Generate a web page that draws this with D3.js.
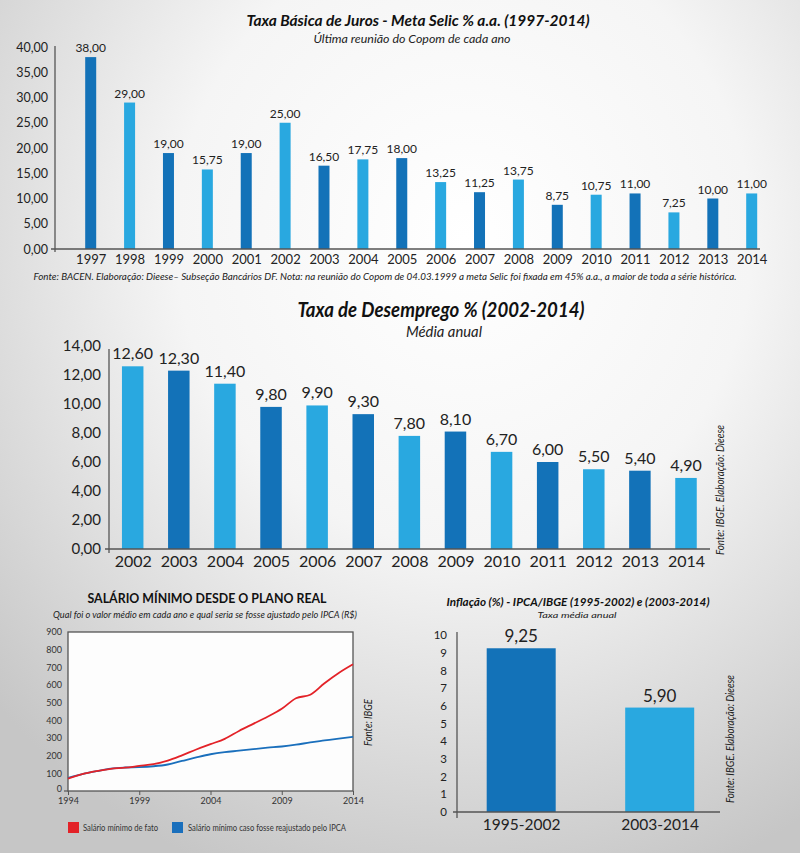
<!DOCTYPE html>
<html><head><meta charset="utf-8">
<script src="https://cdn.jsdelivr.net/npm/d3@7"></script>
<style>html,body{margin:0;padding:0;}svg{display:block;font-family:Lato,"Open Sans",sans-serif;}</style>
</head><body>
<svg id="c" width="800" height="853"></svg>
<script>
// ---- Data ----
const selicYears = ["1997","1998","1999","2000","2001","2002","2003","2004","2005","2006","2007","2008","2009","2010","2011","2012","2013","2014"];
const selicValues = [38.00,29.00,19.00,15.75,19.00,25.00,16.50,17.75,18.00,13.25,11.25,13.75,8.75,10.75,11.00,7.25,10.00,11.00];
const selicTicks = [0,5,10,15,20,25,30,35,40];

const desempYears = ["2002","2003","2004","2005","2006","2007","2008","2009","2010","2011","2012","2013","2014"];
const desempValues = [12.60,12.30,11.40,9.80,9.90,9.30,7.80,8.10,6.70,6.00,5.50,5.40,4.90];
const desempTicks = [0,2,4,6,8,10,12,14];

const salYears = [1994,1995,1996,1997,1998,1999,2000,2001,2002,2003,2004,2005,2006,2007,2008,2009,2010,2011,2012,2013,2014];
const salFato = [70,95,112,125,132,142,152,172,202,235,265,295,340,380,420,465,525,545,610,668,717];
const salIPCA = [75,95,112,127,133,135,140,150,170,190,208,220,228,237,245,252,262,275,286,297,307];
const salYTicks = [0,100,200,300,400,500,600,700,800,900];
const salXTicks = [1994,1999,2004,2009,2014];

const inflCats = ["1995-2002","2003-2014"];
const inflValues = [9.25,5.90];
const inflTicks = [0,1,2,3,4,5,6,7,8,9,10];

const DARK = "#1372b8", LIGHT = "#29a8e0", AXIS = "#555";
const fmt2 = v => v.toFixed(2).replace(".", ",");

const svg = d3.select("#c");
const defs = svg.append("defs");
const bg = defs.append("radialGradient").attr("id","bg").attr("cx","58%").attr("cy","28%").attr("r","80%");
bg.append("stop").attr("offset","0%").attr("stop-color","#ffffff");
bg.append("stop").attr("offset","45%").attr("stop-color","#f5f5f5");
bg.append("stop").attr("offset","100%").attr("stop-color","#c6c6c6");
svg.append("rect").attr("width",800).attr("height",853).attr("fill","url(#bg)");

function txt(x,y,s,o){
  const t = svg.append("text").attr("x",x).attr("y",y).text(s)
    .attr("font-size",o.size).attr("fill",o.fill||"#222")
    .attr("text-anchor",o.anchor||"middle");
  if(o.bold) t.attr("font-weight","bold");
  if(o.italic) t.attr("font-style","italic");
  if(o.len) t.attr("textLength",o.len).attr("lengthAdjust","spacingAndGlyphs");
  if(o.rot) t.attr("transform",`rotate(-90,${x},${y})`);
  return t;
}

// ---- Chart 1: Selic ----
{
  const x = d3.scalePoint().domain(selicYears).range([90.7,751.7]);
  const y = d3.scaleLinear().domain([0,40]).range([249,47]);
  const bw = 11;
  const g = svg.append("g");
  g.selectAll("rect").data(selicValues).join("rect")
    .attr("x",(d,i)=>x(selicYears[i])-bw/2).attr("y",d=>y(d))
    .attr("width",bw).attr("height",d=>y(0)-y(d))
    .attr("fill",(d,i)=>i%2===0?DARK:LIGHT);
  g.selectAll("text.v").data(selicValues).join("text").attr("class","v")
    .attr("x",(d,i)=>x(selicYears[i])).attr("y",d=>y(d)-5)
    .attr("text-anchor","middle").attr("font-size",12).attr("fill","#222").text(fmt2);
  const ya = g.append("g").attr("transform","translate(55,0)")
    .call(d3.axisLeft(y).tickValues(selicTicks).tickFormat(fmt2).tickSize(0).tickPadding(7));
  ya.select(".domain").remove();
  ya.selectAll("text").attr("font-size",12.5).attr("fill","#222").attr("font-family","Lato");
  g.append("line").attr("x1",55).attr("x2",55).attr("y1",46).attr("y2",252).attr("stroke",AXIS).attr("stroke-width",1.3);
  g.append("line").attr("x1",51).attr("x2",760).attr("y1",249).attr("y2",249).attr("stroke",AXIS).attr("stroke-width",1.3);
  const xa = g.append("g").attr("transform","translate(0,249)")
    .call(d3.axisBottom(x).tickSize(0).tickPadding(6));
  xa.select(".domain").remove();
  xa.selectAll("text").attr("font-size",13).attr("fill","#222").attr("font-family","Lato");
  txt(418,26,"Taxa Básica de Juros - Meta Selic % a.a. (1997-2014)",{size:16,bold:true,italic:true,len:343,fill:"#111"});
  txt(412,43,"Última reunião do Copom de cada ano",{size:12,italic:true,len:197});
  txt(385,280,"Fonte: BACEN. Elaboração: Dieese– Subseção Bancários DF. Nota: na reunião do Copom de 04.03.1999 a meta Selic foi fixada em 45% a.a., a maior de toda a série histórica.",{size:9.5,italic:true,len:703});
}

// ---- Chart 2: Desemprego ----
{
  const x = d3.scalePoint().domain(desempYears).range([132.7,686]);
  const y = d3.scaleLinear().domain([0,14]).range([549,346]);
  const bw = 21.5;
  const g = svg.append("g");
  g.selectAll("rect").data(desempValues).join("rect")
    .attr("x",(d,i)=>x(desempYears[i])-bw/2).attr("y",d=>y(d))
    .attr("width",bw).attr("height",d=>y(0)-y(d))
    .attr("fill",(d,i)=>i%2===0?LIGHT:DARK);
  g.selectAll("text.v").data(desempValues).join("text").attr("class","v")
    .attr("x",(d,i)=>x(desempYears[i])).attr("y",d=>y(d)-7)
    .attr("text-anchor","middle").attr("font-size",16).attr("fill","#222").text(fmt2);
  const ya = g.append("g").attr("transform","translate(109,0)")
    .call(d3.axisLeft(y).tickValues(desempTicks).tickFormat(fmt2).tickSize(0).tickPadding(8));
  ya.select(".domain").remove();
  ya.selectAll("text").attr("font-size",15).attr("fill","#222").attr("font-family","Lato");
  g.append("line").attr("x1",109).attr("x2",109).attr("y1",349).attr("y2",553).attr("stroke",AXIS).attr("stroke-width",1.3);
  g.append("line").attr("x1",105).attr("x2",710).attr("y1",549).attr("y2",549).attr("stroke",AXIS).attr("stroke-width",1.3);
  const xa = g.append("g").attr("transform","translate(0,549)")
    .call(d3.axisBottom(x).tickSize(0).tickPadding(7));
  xa.select(".domain").remove();
  xa.selectAll("text").attr("font-size",16).attr("fill","#222").attr("font-family","Lato");
  txt(441,317,"Taxa de Desemprego % (2002-2014)",{size:21,bold:true,italic:true,len:287,fill:"#111"});
  txt(444,337,"Média anual",{size:15,italic:true,len:76});
  txt(724,555,"Fonte: IBGE. Elaboração: Dieese",{size:12,italic:true,anchor:"start",len:130,rot:true});
}

// ---- Chart 3: Salário mínimo ----
{
  const x = d3.scaleLinear().domain([1994,2014]).range([68,353]);
  const y = d3.scaleLinear().domain([0,900]).range([791,632]);
  const g = svg.append("g");
  g.append("rect").attr("x",68).attr("y",632).attr("width",285).attr("height",159)
    .attr("fill","#fdfdfd").attr("stroke",AXIS).attr("stroke-width",1.3);
  const ya = g.append("g").attr("transform","translate(68,0)")
    .call(d3.axisLeft(y).tickValues(salYTicks).tickFormat(d3.format("d")).tickSize(0).tickPadding(6));
  ya.select(".domain").remove();
  ya.selectAll("text").attr("font-size",9).attr("fill","#333").attr("font-family","Lato");
  ya.selectAll("text").filter(d=>d===0).attr("dy","0.1em");
  g.append("line").attr("x1",64).attr("x2",68).attr("y1",791).attr("y2",791).attr("stroke",AXIS).attr("stroke-width",1.2);
  const xa = g.append("g").attr("transform","translate(0,791)")
    .call(d3.axisBottom(x).tickValues(salXTicks).tickFormat(d3.format("d")).tickSize(4).tickPadding(3));
  xa.select(".domain").remove();
  xa.selectAll("line").attr("stroke",AXIS);
  xa.selectAll("text").attr("font-size",9).attr("fill","#333").attr("font-family","Lato");
  const line = d3.line().x((d,i)=>x(salYears[i])).y(d=>y(d)).curve(d3.curveMonotoneX);
  g.append("path").datum(salIPCA).attr("d",line).attr("fill","none").attr("stroke","#1a6fbc").attr("stroke-width",1.8);
  g.append("path").datum(salFato).attr("d",line).attr("fill","none").attr("stroke","#e32228").attr("stroke-width",1.8);
  txt(207,603,"SALÁRIO MÍNIMO DESDE O PLANO REAL",{size:14,bold:true,len:239,fill:"#111"});
  txt(205,618,"Qual foi o valor médio em cada ano e qual seria se fosse ajustado pelo IPCA (R$)",{size:9.5,italic:true,len:304});
  txt(372,746,"Fonte: IBGE",{size:11,italic:true,anchor:"start",len:47,rot:true});
  g.append("rect").attr("x",68).attr("y",822).attr("width",11).attr("height",11).attr("fill","#e32228");
  txt(83,831,"Salário mínimo de fato",{size:8.5,anchor:"start",len:75,fill:"#333"});
  g.append("rect").attr("x",172).attr("y",822).attr("width",11).attr("height",11).attr("fill","#1a6fbc");
  txt(188,831,"Salário mínimo caso fosse reajustado pelo IPCA",{size:8.5,anchor:"start",len:158,fill:"#333"});
}

// ---- Chart 4: Inflação ----
{
  const x = d3.scalePoint().domain(inflCats).range([521.2,659.7]);
  const y = d3.scaleLinear().domain([0,10]).range([812,635]);
  const bw = 69;
  const g = svg.append("g");
  g.selectAll("rect").data(inflValues).join("rect")
    .attr("x",(d,i)=>x(inflCats[i])-bw/2).attr("y",d=>y(d))
    .attr("width",bw).attr("height",d=>y(0)-y(d))
    .attr("fill",(d,i)=>i===0?DARK:LIGHT);
  g.selectAll("text.v").data(inflValues).join("text").attr("class","v")
    .attr("x",(d,i)=>x(inflCats[i])).attr("y",d=>y(d)-6)
    .attr("text-anchor","middle").attr("font-size",17).attr("fill","#222").text(fmt2);
  const ya = g.append("g").attr("transform","translate(457,0)")
    .call(d3.axisLeft(y).tickValues(inflTicks).tickFormat(d3.format("d")).tickSize(0).tickPadding(10));
  ya.select(".domain").remove();
  ya.selectAll("text").attr("font-size",11.5).attr("fill","#222").attr("font-family","Lato");
  g.append("line").attr("x1",457).attr("x2",457).attr("y1",632).attr("y2",818).attr("stroke",AXIS).attr("stroke-width",1.3);
  g.append("line").attr("x1",453).attr("x2",720).attr("y1",812).attr("y2",812).attr("stroke",AXIS).attr("stroke-width",1.3);
  const xa = g.append("g").attr("transform","translate(0,812)")
    .call(d3.axisBottom(x).tickSize(0).tickPadding(7));
  xa.select(".domain").remove();
  xa.selectAll("text").attr("font-size",15.5).attr("fill","#222").attr("font-family","Lato");
  txt(578,606,"Inflação (%) - IPCA/IBGE (1995-2002) e (2003-2014)",{size:12,bold:true,italic:true,len:263,fill:"#111"});
  txt(577,618,"Taxa média anual",{size:8.5,italic:true,len:79});
  txt(734,803,"Fonte: IBGE. Elaboração: Dieese",{size:11,italic:true,anchor:"start",len:128,rot:true});
}
</script>
</body></html>
